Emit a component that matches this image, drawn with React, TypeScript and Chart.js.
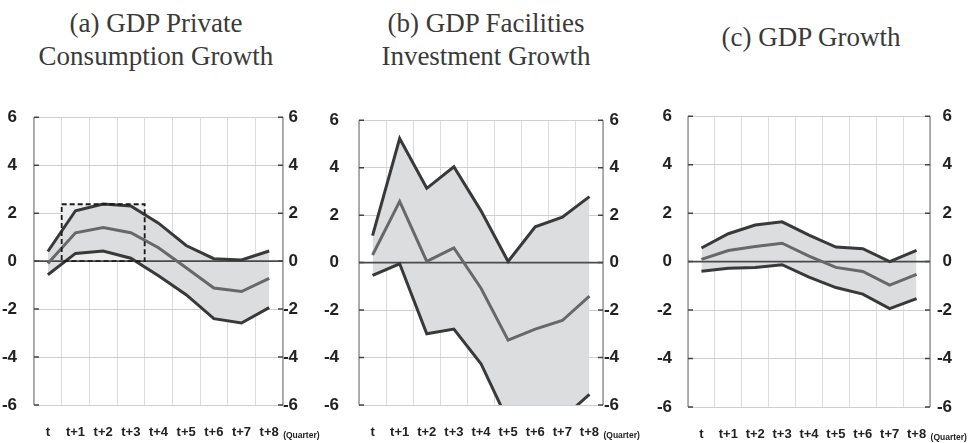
import React, { useEffect, useRef } from 'react';
import { Chart, registerables } from 'chart.js';

Chart.register(...registerables);

// ---------- data ----------
const QUARTERS = ['t', 't+1', 't+2', 't+3', 't+4', 't+5', 't+6', 't+7', 't+8'];
const UNIT_LABEL = '(Quarter)';
const Y_MIN = -6;
const Y_MAX = 6;
const Y_STEP = 2;

const consUpper = [0.4, 2.1, 2.38, 2.3, 1.58, 0.65, 0.1, 0.05, 0.42];
const consMid = [-0.1, 1.18, 1.4, 1.18, 0.56, -0.28, -1.12, -1.27, -0.72];
const consLower = [-0.57, 0.32, 0.42, 0.12, -0.61, -1.4, -2.4, -2.58, -1.94];

const invUpper = [1.14, 5.23, 3.13, 4.04, 2.18, 0.05, 1.51, 1.91, 2.78];
const invMid = [0.32, 2.58, 0.05, 0.62, -1.08, -3.27, -2.8, -2.44, -1.41];
const invLower = [-0.54, -0.05, -3.0, -2.8, -4.26, -6.68, -6.8, -6.57, -5.55];

const gdpUpper = [0.56, 1.15, 1.51, 1.64, 1.09, 0.6, 0.53, 0.0, 0.46];
const gdpMid = [0.09, 0.46, 0.62, 0.76, 0.23, -0.24, -0.41, -0.97, -0.53];
const gdpLower = [-0.4, -0.27, -0.24, -0.13, -0.64, -1.07, -1.34, -1.94, -1.53];

// highlighted box in panel (a): category-index range and value range
const consBoxX = [0.5, 3.5];
const consBoxY = [0, 2.37];

const TITLE_A = ['(a) GDP Private', 'Consumption Growth'];
const TITLE_B = ['(b) GDP Facilities', 'Investment Growth'];
const TITLE_C = ['(c) GDP Growth'];

// ---------- styles ----------
const TICK_FONT = "'Liberation Sans', Arial, sans-serif";
const TITLE_FONT = "'Liberation Serif', 'DejaVu Serif', serif";
const OUTER_LINE = '#393939';
const MID_LINE = '#686868';
const BAND = '#dcdddf';
const TEXT = '#222222';

type Box = { x: number[]; y: number[] } | null;

interface PanelCfg {
  left: number;
  top: number;
  width: number;
  height: number;
  leftW: number;
  rightW: number;
  padTop: number;
  padRight: number;
  xH: number;
  leftPad: number;
  upper: number[];
  mid: number[];
  lower: number[];
  box: Box;
}

const PANELS: PanelCfg[] = [
  { left: 0, top: 90, width: 320, height: 353, leftW: 34, rightW: 15, padRight: 22, padTop: 14, xH: 38, leftPad: 17,
    upper: consUpper, mid: consMid, lower: consLower, box: { x: consBoxX, y: consBoxY } },
  { left: 320, top: 90, width: 320, height: 353, leftW: 39, rightW: 16, padRight: 21, padTop: 14, xH: 38, leftPad: 20,
    upper: invUpper, mid: invMid, lower: invLower, box: null },
  { left: 640, top: 90, width: 328, height: 353, leftW: 48, rightW: 22, padRight: 16, padTop: 15, xH: 36, leftPad: 16,
    upper: gdpUpper, mid: gdpMid, lower: gdpLower, box: null },
];

function makeDecor(box: Box) {
  return {
    id: 'panelDecor',
    beforeDatasetsDraw(chart: any) {
      const { ctx, chartArea: a, scales } = chart;
      const xs = scales.x;
      const ys = scales.y;
      ctx.save();
      if (box) {
        const x0 = xs.getPixelForValue(box.x[0]);
        const x1 = xs.getPixelForValue(box.x[1]);
        const y0 = ys.getPixelForValue(box.y[0]);
        const y1 = ys.getPixelForValue(box.y[1]);
        ctx.fillStyle = '#ededed';
        ctx.fillRect(x0, y1, x1 - x0, y0 - y1);
      }
      ctx.strokeStyle = '#8a8a8a';
      ctx.lineWidth = 1.3;
      ctx.beginPath();
      ctx.moveTo(a.left, a.top);
      ctx.lineTo(a.left, a.bottom);
      ctx.moveTo(a.right, a.top);
      ctx.lineTo(a.right, a.bottom);
      ctx.stroke();
      ctx.strokeStyle = '#444';
      ctx.lineWidth = 1.5;
      ctx.beginPath();
      ys.ticks.forEach((t: any) => {
        const py = ys.getPixelForValue(t.value);
        ctx.moveTo(a.left, py);
        ctx.lineTo(a.left + 5, py);
        ctx.moveTo(a.right - 5, py);
        ctx.lineTo(a.right, py);
      });
      ctx.stroke();
      ctx.restore();
    },
    beforeDatasetDraw(chart: any, args: any) {
      if (args.index !== 2) return;
      const { ctx, chartArea: a, scales } = chart;
      const py = scales.y.getPixelForValue(0);
      ctx.save();
      ctx.strokeStyle = '#4a4a4a';
      ctx.lineWidth = 1.6;
      ctx.beginPath();
      ctx.moveTo(a.left, py);
      ctx.lineTo(a.right, py);
      ctx.stroke();
      ctx.restore();
    },
    afterDatasetsDraw(chart: any) {
      if (!box) return;
      const { ctx, scales } = chart;
      const xs = scales.x;
      const ys = scales.y;
      const x0 = xs.getPixelForValue(box.x[0]);
      const x1 = xs.getPixelForValue(box.x[1]);
      const y0 = ys.getPixelForValue(box.y[0]);
      const y1 = ys.getPixelForValue(box.y[1]);
      ctx.save();
      ctx.strokeStyle = '#1a1a1a';
      ctx.lineWidth = 1.8;
      ctx.setLineDash([5, 3]);
      ctx.strokeRect(x0, y1, x1 - x0, y0 - y1);
      ctx.restore();
    },
    afterDraw(chart: any) {
      const { ctx, chartArea: a, scales } = chart;
      const px = scales.x.getPixelForValue(QUARTERS.length - 1);
      ctx.save();
      ctx.font = `bold 8.5px ${TICK_FONT}`;
      ctx.fillStyle = TEXT;
      ctx.textAlign = 'left';
      ctx.textBaseline = 'middle';
      ctx.fillText(UNIT_LABEL, px + 14, a.bottom + 31);
      ctx.restore();
    },
  };
}

function Panel({ cfg }: { cfg: PanelCfg }) {
  const ref = useRef<HTMLCanvasElement>(null);
  useEffect(() => {
    const canvas = ref.current;
    if (!canvas) return;
    const lineDs = (data: number[], color: string, extra: any = {}) => ({
      data,
      borderColor: color,
      borderWidth: 3,
      pointRadius: 0,
      tension: 0,
      fill: false,
      yAxisID: 'y',
      ...extra,
    });
    const chart = new Chart(canvas, {
      type: 'line',
      data: {
        labels: QUARTERS,
        datasets: [
          lineDs(cfg.mid, MID_LINE),
          lineDs(cfg.lower, OUTER_LINE),
          lineDs(cfg.upper, OUTER_LINE, { fill: { target: 1 }, backgroundColor: BAND }),
        ],
      },
      options: {
        responsive: false,
        maintainAspectRatio: false,
        animation: false,
        devicePixelRatio: 1,
        layout: { padding: { top: cfg.padTop, left: 0, right: cfg.padRight, bottom: 0 } },
        plugins: {
          legend: { display: false },
          tooltip: { enabled: false },
          title: { display: false },
        },
        scales: {
          x: {
            type: 'category',
            offset: true,
            grid: { offset: true, color: '#dcdcdc', lineWidth: 1, drawTicks: false },
            border: { display: false },
            ticks: {
              padding: 20,
              autoSkip: false,
              maxRotation: 0,
              color: TEXT,
              font: { family: TICK_FONT, size: 13, weight: 'bold' },
            },
            afterFit: (s: any) => { s.height = cfg.xH; },
          },
          y: {
            position: 'left',
            min: Y_MIN,
            max: Y_MAX,
            grid: { color: '#cfcfcf', lineWidth: 1, drawTicks: false },
            border: { display: false },
            ticks: {
              stepSize: Y_STEP,
              padding: cfg.leftPad,
              color: TEXT,
              font: { family: TICK_FONT, size: 17, weight: 'bold' },
            },
            afterFit: (s: any) => { s.width = cfg.leftW; },
          },
          y2: {
            position: 'right',
            min: Y_MIN,
            max: Y_MAX,
            grid: { display: false, drawTicks: false },
            border: { display: false },
            ticks: {
              stepSize: Y_STEP,
              padding: 4,
              crossAlign: 'far',
              color: TEXT,
              font: { family: TICK_FONT, size: 17, weight: 'bold' },
            },
            afterFit: (s: any) => { s.width = cfg.rightW; },
          },
        },
      } as any,
      plugins: [makeDecor(cfg.box)],
    });
    return () => chart.destroy();
  }, [cfg]);
  return (
    <canvas
      ref={ref}
      width={cfg.width}
      height={cfg.height}
      style={{ position: 'absolute', left: cfg.left, top: cfg.top, width: cfg.width, height: cfg.height }}
    />
  );
}

function Title({ lines, center, top }: { lines: string[]; center: number; top: number }) {
  return (
    <div
      style={{
        position: 'absolute',
        left: center - 170,
        top,
        width: 340,
        textAlign: 'center',
        fontFamily: TITLE_FONT,
        fontSize: 27,
        lineHeight: '33px',
        color: '#3a3a3a',
        whiteSpace: 'nowrap',
      }}
    >
      {lines.map((l, i) => (
        <div key={i}>{l}</div>
      ))}
    </div>
  );
}

export default function App() {
  return (
    <div style={{ position: 'absolute', left: 0, top: 0, width: 968, height: 443, background: '#fff', overflow: 'hidden' }}>
      <Title lines={TITLE_A} center={156} top={7} />
      <Title lines={TITLE_B} center={486} top={7} />
      <Title lines={TITLE_C} center={811} top={21} />
      {PANELS.map((p, i) => (
        <Panel key={i} cfg={p} />
      ))}
    </div>
  );
}
